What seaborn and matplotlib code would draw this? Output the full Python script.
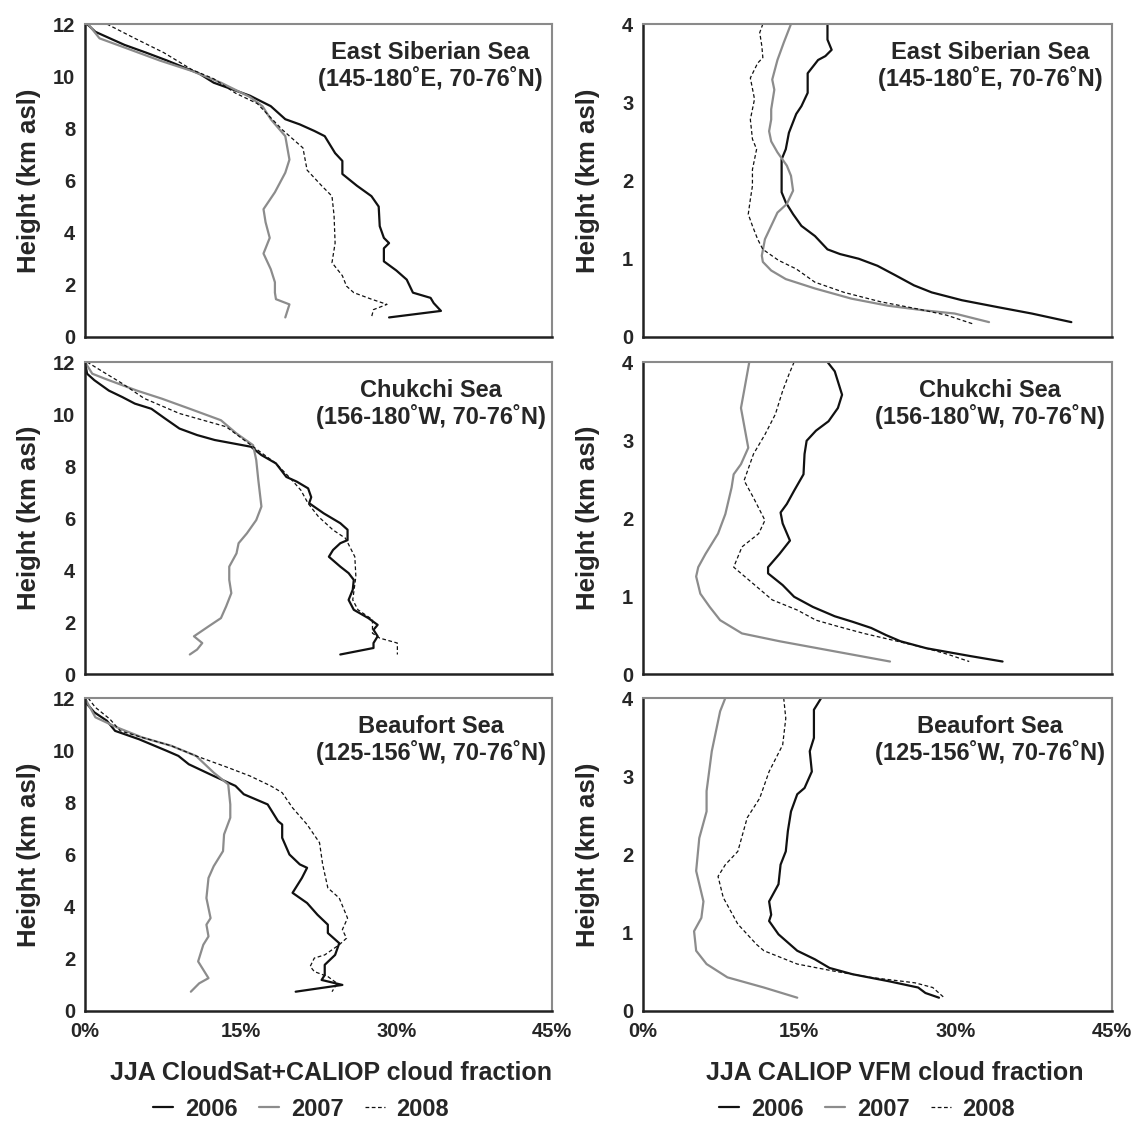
import numpy as np
import pandas as pd
import matplotlib
matplotlib.use("Agg")
import matplotlib.pyplot as plt
from matplotlib.lines import Line2D
from matplotlib.ticker import MultipleLocator, FuncFormatter
import seaborn as sns

# ---------------- data (cloud fraction in %, height in km asl) ----------------
years = ["2006", "2007", "2008"]

# East Siberian Sea, CloudSat+CALIOP
ess_cs_2006_h = [12, 11.7, 11.2, 10.9, 10.6, 10.1, 9.75, 9.25, 8.85, 8.35, 8.15, 7.9, 7.7, 7.05, 6.75, 6.25, 5.8, 5.4, 5.0, 4.25, 3.8, 3.6, 3.4, 2.9, 2.55, 2.2, 1.7, 1.5, 1.3, 1.0, 0.75]
ess_cs_2006_f = [0.2, 1.0, 3.8, 5.9, 7.9, 11.0, 12.4, 15.9, 17.9, 19.3, 20.7, 22.1, 23.1, 24.1, 24.8, 24.8, 26.2, 27.6, 28.3, 28.4, 28.8, 29.3, 28.8, 28.8, 30.0, 31.0, 31.6, 33.3, 33.6, 34.3, 29.3]
ess_cs_2007_h = [12, 11.45, 11.1, 10.6, 10.2, 9.75, 9.2, 8.85, 8.35, 7.7, 6.8, 6.3, 5.55, 4.9, 4.4, 3.8, 3.2, 2.6, 2.1, 1.7, 1.45, 1.25, 0.75]
ess_cs_2007_f = [0.3, 1.4, 3.8, 7.2, 10.3, 13.1, 15.9, 17.1, 17.9, 19.3, 19.7, 19.3, 18.3, 17.2, 17.4, 17.8, 17.2, 17.9, 18.3, 18.3, 18.4, 19.7, 19.3]
ess_cs_2008_h = [12, 11.45, 10.9, 10.25, 9.9, 9.35, 8.95, 7.95, 7.25, 6.4, 5.8, 5.4, 4.65, 3.6, 2.85, 2.35, 1.95, 1.7, 1.45, 1.25, 1.05, 0.75]
ess_cs_2008_f = [2.1, 4.8, 7.6, 10.3, 12.4, 14.5, 16.6, 19.0, 21.0, 21.4, 22.8, 23.8, 24.0, 24.1, 23.8, 24.8, 25.2, 25.9, 27.6, 29.1, 27.8, 27.6]

# East Siberian Sea, CALIOP VFM
ess_vfm_2006_h = [4.0, 3.8, 3.67, 3.59, 3.54, 3.37, 3.12, 2.95, 2.85, 2.61, 2.4, 2.27, 1.85, 1.72, 1.57, 1.42, 1.29, 1.12, 1.06, 1.0, 0.91, 0.79, 0.66, 0.57, 0.47, 0.38, 0.30, 0.19]
ess_vfm_2006_f = [17.7, 17.7, 18.1, 17.5, 16.8, 15.8, 15.8, 15.2, 14.7, 14.0, 13.7, 13.3, 13.3, 13.7, 14.4, 15.2, 16.5, 17.7, 18.9, 20.7, 22.5, 24.2, 26.0, 27.7, 30.6, 34.1, 37.3, 41.1]
ess_vfm_2007_h = [4.0, 3.76, 3.54, 3.29, 3.16, 2.91, 2.78, 2.63, 2.5, 2.36, 2.19, 2.06, 1.87, 1.70, 1.59, 1.42, 1.25, 1.04, 0.96, 0.85, 0.74, 0.62, 0.49, 0.40, 0.34, 0.30, 0.19]
ess_vfm_2007_f = [14.2, 13.5, 12.9, 12.4, 12.6, 12.3, 12.3, 12.1, 12.3, 12.9, 13.8, 14.2, 14.4, 13.8, 12.9, 12.3, 11.7, 11.4, 11.5, 12.3, 13.7, 16.5, 20.0, 23.5, 27.0, 29.9, 33.2]
ess_vfm_2008_h = [4.0, 3.89, 3.72, 3.57, 3.5, 3.31, 3.04, 2.78, 2.53, 2.4, 2.14, 1.93, 1.76, 1.57, 1.42, 1.25, 1.12, 0.98, 0.87, 0.70, 0.57, 0.45, 0.36, 0.28, 0.17]
ess_vfm_2008_f = [11.5, 11.2, 11.4, 11.5, 11.0, 10.3, 10.7, 10.3, 10.5, 10.9, 10.5, 10.5, 10.3, 10.1, 10.5, 11.0, 11.5, 13.0, 14.7, 16.5, 19.3, 22.8, 26.3, 29.1, 31.6]

# Chukchi Sea, CloudSat+CALIOP
chu_cs_2006_h = [12, 11.55, 11.3, 10.9, 10.65, 10.4, 10.2, 9.83, 9.44, 9.19, 9.0, 8.74, 8.42, 8.1, 7.58, 7.4, 7.14, 6.8, 6.57, 6.18, 5.8, 5.55, 5.15, 5.03, 4.77, 4.51, 4.13, 3.88, 3.62, 3.24, 2.85, 2.47, 2.15, 1.89, 1.70, 1.45, 1.19, 1.0, 0.75]
chu_cs_2006_f = [0.0, 0.2, 0.9, 2.3, 3.6, 4.8, 6.4, 7.7, 9.1, 10.8, 12.5, 16.0, 17.0, 18.4, 19.4, 20.4, 21.5, 21.8, 21.6, 23.0, 24.6, 25.3, 25.3, 24.6, 23.9, 23.5, 24.6, 25.4, 25.9, 25.8, 25.4, 25.9, 27.3, 28.2, 27.8, 28.2, 27.8, 27.8, 24.6]
chu_cs_2007_h = [12, 11.55, 11.36, 10.9, 10.59, 10.2, 9.76, 9.25, 8.8, 8.23, 7.46, 6.44, 5.92, 5.41, 5.03, 4.64, 4.13, 3.62, 3.11, 2.6, 2.15, 1.83, 1.45, 1.19, 0.94, 0.75]
chu_cs_2007_f = [0.0, 0.7, 1.9, 5.0, 7.4, 10.1, 13.1, 14.6, 16.2, 16.5, 16.7, 17.0, 16.5, 15.6, 14.8, 14.6, 13.9, 13.9, 14.1, 13.6, 13.1, 11.9, 10.5, 11.3, 10.8, 10.1]
chu_cs_2008_h = [12, 11.68, 11.17, 10.6, 10.02, 9.51, 8.8, 8.1, 7.52, 7.07, 6.56, 6.05, 5.54, 5.22, 4.51, 3.75, 2.85, 2.47, 2.09, 1.57, 1.38, 1.19, 0.75]
chu_cs_2008_f = [0.2, 1.5, 3.6, 5.7, 9.1, 13.6, 16.0, 18.4, 19.8, 20.8, 21.5, 22.5, 23.9, 25.1, 26.0, 26.1, 25.8, 26.3, 27.7, 27.7, 28.4, 30.1, 30.1]

# Chukchi Sea, CALIOP VFM
chu_vfm_2006_h = [4.0, 3.88, 3.58, 3.41, 3.24, 3.12, 2.99, 2.82, 2.56, 2.35, 2.18, 2.07, 1.93, 1.71, 1.54, 1.37, 1.29, 1.14, 0.99, 0.86, 0.74, 0.67, 0.59, 0.50, 0.42, 0.33, 0.23, 0.16]
chu_vfm_2006_f = [17.7, 18.4, 19.1, 18.7, 17.8, 16.6, 15.7, 15.5, 15.4, 14.5, 13.8, 13.2, 13.4, 14.1, 13.1, 12.0, 12.0, 13.4, 14.5, 16.3, 18.4, 20.1, 21.9, 23.3, 24.7, 27.2, 31.4, 34.5]
chu_vfm_2007_h = [4.0, 3.63, 3.41, 2.9, 2.69, 2.56, 2.39, 2.05, 1.80, 1.54, 1.37, 1.25, 1.03, 0.86, 0.69, 0.52, 0.42, 0.29, 0.16]
chu_vfm_2007_f = [10.2, 9.7, 9.4, 10.1, 9.4, 8.7, 8.5, 7.9, 7.2, 6.0, 5.3, 5.1, 5.5, 6.4, 7.4, 9.5, 13.1, 18.4, 23.7]
chu_vfm_2008_h = [4.0, 3.84, 3.63, 3.33, 3.07, 2.82, 2.48, 2.26, 1.97, 1.80, 1.63, 1.37, 1.20, 0.95, 0.82, 0.69, 0.61, 0.52, 0.42, 0.33, 0.25, 0.16]
chu_vfm_2008_f = [14.5, 14.0, 13.4, 12.7, 11.7, 10.6, 9.7, 10.6, 11.7, 11.1, 9.5, 8.7, 10.2, 12.4, 14.8, 16.6, 18.7, 21.2, 24.4, 27.2, 29.3, 31.3]

# Beaufort Sea, CloudSat+CALIOP
bea_cs_2006_h = [12, 11.77, 11.45, 11.13, 10.74, 10.42, 9.97, 9.78, 9.46, 9.01, 8.63, 8.31, 7.92, 7.28, 7.15, 6.64, 6.0, 5.62, 5.49, 5.1, 4.53, 4.14, 3.69, 3.31, 2.99, 2.6, 2.15, 1.77, 1.38, 1.19, 1.0, 0.74]
bea_cs_2006_f = [0.0, 0.2, 0.9, 2.1, 2.9, 5.2, 7.9, 9.0, 10.0, 12.4, 14.5, 15.3, 17.6, 18.6, 19.0, 19.0, 19.7, 20.7, 21.4, 20.9, 20.0, 21.4, 22.4, 23.4, 23.4, 24.5, 24.1, 23.1, 23.1, 22.8, 24.8, 20.3]
bea_cs_2007_h = [12, 11.77, 11.26, 10.87, 10.49, 10.17, 9.78, 9.14, 8.69, 7.92, 7.41, 6.77, 6.13, 5.55, 5.1, 4.33, 3.56, 3.31, 2.86, 2.54, 1.9, 1.26, 1.06, 0.74]
bea_cs_2007_f = [0.0, 0.3, 1.0, 3.1, 5.5, 8.3, 10.7, 12.4, 13.8, 14.0, 14.0, 13.4, 13.3, 12.4, 11.9, 11.7, 12.1, 11.7, 11.9, 11.4, 10.9, 11.9, 11.0, 10.2]
bea_cs_2008_h = [12, 11.64, 11.19, 10.74, 10.49, 10.17, 9.78, 9.33, 9.01, 8.63, 8.37, 7.79, 7.15, 6.45, 5.62, 4.72, 4.33, 3.56, 3.12, 2.79, 2.54, 2.15, 2.03, 1.71, 1.51, 1.32, 1.06, 0.74]
bea_cs_2008_f = [0.3, 1.0, 2.4, 3.4, 5.5, 8.3, 10.7, 13.8, 15.9, 17.9, 19.0, 20.0, 21.4, 22.6, 22.9, 23.4, 24.5, 25.3, 24.8, 25.2, 24.5, 23.1, 22.1, 21.7, 22.1, 23.4, 24.3, 23.8]

# Beaufort Sea, CALIOP VFM
bea_vfm_2006_h = [4.0, 3.85, 3.49, 3.32, 3.06, 2.85, 2.77, 2.55, 2.30, 2.04, 1.87, 1.62, 1.40, 1.23, 1.15, 0.98, 0.77, 0.66, 0.55, 0.47, 0.38, 0.30, 0.23, 0.17]
bea_vfm_2006_f = [17.1, 16.4, 16.4, 16.0, 16.2, 15.5, 14.8, 14.2, 13.9, 13.7, 13.2, 13.0, 12.1, 12.3, 12.1, 13.0, 14.8, 16.5, 17.9, 20.1, 23.6, 26.4, 27.1, 28.4]
bea_vfm_2007_h = [4.0, 3.83, 3.32, 2.81, 2.55, 2.21, 1.79, 1.40, 1.19, 1.02, 0.77, 0.60, 0.43, 0.30, 0.17]
bea_vfm_2007_f = [7.9, 7.4, 6.6, 6.1, 6.1, 5.4, 5.1, 5.8, 5.6, 4.9, 5.1, 6.1, 8.1, 11.6, 14.8]
bea_vfm_2008_h = [4.0, 3.74, 3.40, 3.06, 2.72, 2.47, 2.04, 1.87, 1.72, 1.45, 1.11, 0.85, 0.77, 0.60, 0.51, 0.43, 0.36, 0.30, 0.17]
bea_vfm_2008_f = [13.5, 13.7, 13.4, 12.1, 11.2, 10.0, 9.1, 7.9, 7.2, 7.7, 9.1, 10.9, 11.6, 14.8, 18.3, 21.8, 26.1, 27.8, 28.9]

region_titles = ["East Siberian Sea\n(145-180˚E, 70-76˚N)",
                 "Chukchi Sea\n(156-180˚W, 70-76˚N)",
                 "Beaufort Sea\n(125-156˚W, 70-76˚N)"]
x_labels = ["JJA CloudSat+CALIOP cloud fraction", "JJA CALIOP VFM cloud fraction"]
y_label = "Height (km asl)"

panels = [
    [(ess_cs_2006_f, ess_cs_2006_h), (ess_cs_2007_f, ess_cs_2007_h), (ess_cs_2008_f, ess_cs_2008_h)],
    [(ess_vfm_2006_f, ess_vfm_2006_h), (ess_vfm_2007_f, ess_vfm_2007_h), (ess_vfm_2008_f, ess_vfm_2008_h)],
    [(chu_cs_2006_f, chu_cs_2006_h), (chu_cs_2007_f, chu_cs_2007_h), (chu_cs_2008_f, chu_cs_2008_h)],
    [(chu_vfm_2006_f, chu_vfm_2006_h), (chu_vfm_2007_f, chu_vfm_2007_h), (chu_vfm_2008_f, chu_vfm_2008_h)],
    [(bea_cs_2006_f, bea_cs_2006_h), (bea_cs_2007_f, bea_cs_2007_h), (bea_cs_2008_f, bea_cs_2008_h)],
    [(bea_vfm_2006_f, bea_vfm_2006_h), (bea_vfm_2007_f, bea_vfm_2007_h), (bea_vfm_2008_f, bea_vfm_2008_h)],
]

# ---------------- style ----------------
sns.set_style("white")
plt.rcParams["font.family"] = ["Liberation Sans", "DejaVu Sans"]
plt.rcParams["font.weight"] = "bold"
plt.rcParams["axes.labelweight"] = "bold"

palette = {"2006": "#111111", "2007": "#8c8c8c", "2008": "#111111"}
dashes = {"2006": "", "2007": "", "2008": (3, 2)}
sizes = {"2006": 1.6, "2007": 1.6, "2008": 0.9}

W, H = 1135, 1123
fig = plt.figure(figsize=(W / 100, H / 100), dpi=100)

col_x = [(85, 552), (643, 1112)]
row_y = [(24, 337), (362, 674), (698, 1011)]

for i, series in enumerate(panels):
    r, c = divmod(i, 2)
    x0, x1 = col_x[c]
    y0, y1 = row_y[r]
    ax = fig.add_axes([x0 / W, (H - y1) / H, (x1 - x0) / W, (y1 - y0) / H])

    rows = []
    for yr, (f, h) in zip(years, series):
        for k, (fv, hv) in enumerate(zip(f, h)):
            rows.append({"frac": fv, "height": hv, "year": yr, "order": k})
    df = pd.DataFrame(rows)

    sns.lineplot(data=df, x="frac", y="height", hue="year", style="year", size="year",
                 palette=palette, dashes=dashes, sizes=sizes, hue_order=years,
                 sort=False, estimator=None, orient="y", legend=False, ax=ax)

    ymax = 12 if c == 0 else 4
    ax.set_xlim(0, 45)
    ax.set_ylim(0, ymax)
    ax.xaxis.set_major_locator(MultipleLocator(15))
    ax.xaxis.set_minor_locator(MultipleLocator(5))
    ax.xaxis.set_major_formatter(FuncFormatter(lambda v, p: f"{int(round(v))}%"))
    if c == 0:
        ax.yaxis.set_major_locator(MultipleLocator(2))
        ax.yaxis.set_minor_locator(MultipleLocator(1))
    else:
        ax.yaxis.set_major_locator(MultipleLocator(1))
    ax.tick_params(axis="both", which="both", direction="out", length=4, width=1.2,
                   color="#222222", labelsize=14.5, pad=3)
    ax.tick_params(axis="x", which="major", labelbottom=(r == 2), pad=4)

    for side in ["top", "right"]:
        ax.spines[side].set_color("#8a8a8a")
        ax.spines[side].set_linewidth(1.5)
    for side in ["left", "bottom"]:
        ax.spines[side].set_color("#222222")
        ax.spines[side].set_linewidth(1.8)

    ax.set_xlabel("")
    ax.set_ylabel(y_label, fontsize=18.5, fontweight="bold")
    ax.yaxis.set_label_coords(-0.095 if c == 0 else -0.092, 0.5)

    ax.text(0.74, 0.865, region_titles[r], transform=ax.transAxes, ha="center",
            va="center", fontsize=17, fontweight="bold", linespacing=1.1)

# x-axis titles and legends below each column
fig.text(331 / W, (H - 1073) / H, x_labels[0], ha="center", va="center",
         fontsize=18, fontweight="bold")
fig.text(895 / W, (H - 1073) / H, x_labels[1], ha="center", va="center",
         fontsize=18, fontweight="bold")

handles = [Line2D([], [], color=palette[y], lw=sizes[y],
                  dashes=(dashes[y] if dashes[y] else (None, None)))
           for y in years]
for cx in (301, 867):
    fig.legend(handles, years, loc="center", bbox_to_anchor=(cx / W, (H - 1109) / H),
               ncol=3, frameon=False, fontsize=17, handlelength=0.85,
               handletextpad=0.5, columnspacing=0.9, borderpad=0, borderaxespad=0)

fig.savefig("out.png", dpi=100)
